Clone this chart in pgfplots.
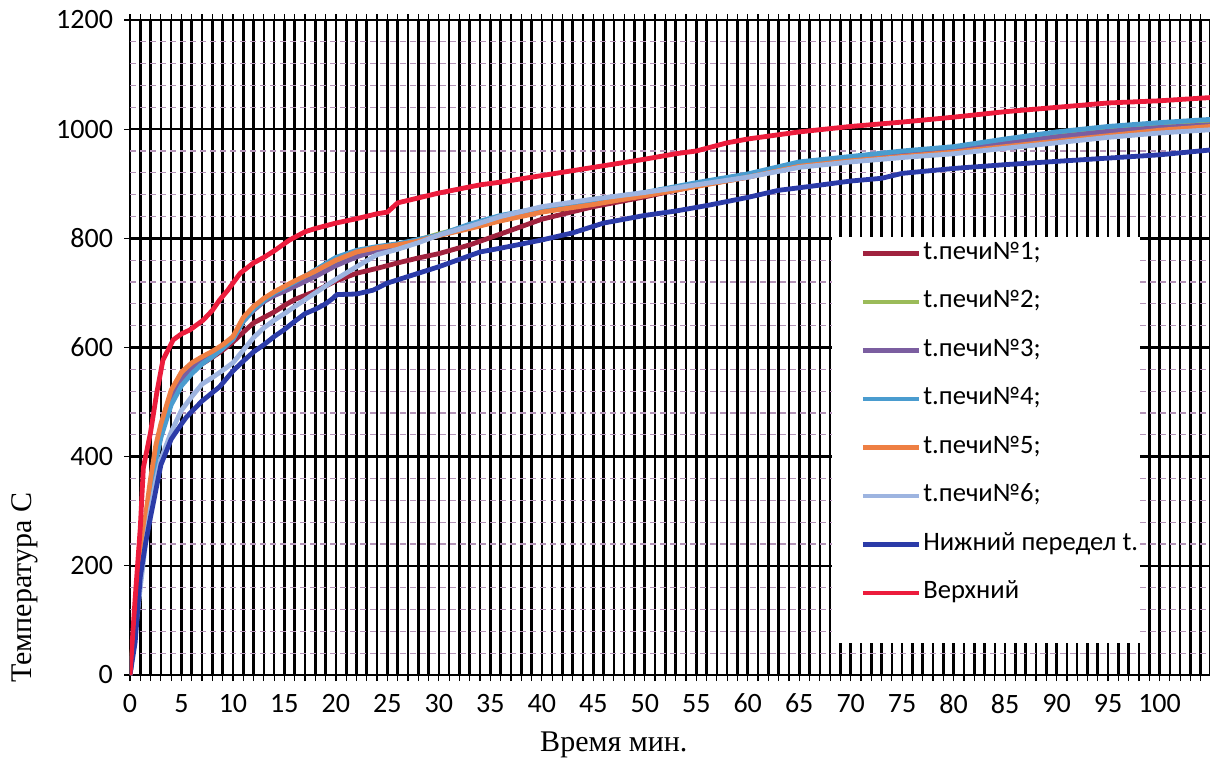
\documentclass[border=0pt]{standalone}
\usepackage{pgfplots}
\pgfplotsset{compat=1.18}
\usepackage{fontspec}
\setmainfont{Liberation Serif}
\newfontfamily\calfont{Carlito}
\definecolor{cA}{HTML}{A0223E}
\definecolor{cB}{HTML}{9BBB59}
\definecolor{cC}{HTML}{7B5EA0}
\definecolor{cD}{HTML}{4A9CCF}
\definecolor{cE}{HTML}{EE7F43}
\definecolor{cF}{HTML}{9DB4E0}
\definecolor{cLow}{HTML}{2B3BA8}
\definecolor{cUp}{HTML}{EC1C3C}
\definecolor{gridpink}{HTML}{B494B8}
\begin{document}
\begin{tikzpicture}
\path[use as bounding box] (-65pt,-43.5pt) rectangle (540pt,337.5pt);
\begin{axis}[
  scale only axis, width=540pt, height=327.5pt,
  xmin=0, xmax=104.9, ymin=0, ymax=1200,
  xtick={0,5,...,100}, minor xtick={0,1,...,104},
  ytick={0,200,...,1200},
  xmajorgrids, xminorgrids, ymajorgrids,
  major grid style={black, line width=1.3pt},
  minor grid style={black, line width=1.3pt},
  extra y ticks={40,80,120,160,240,280,320,360,440,480,520,560,640,680,720,760,840,880,920,960,1040,1080,1120,1160},
  extra y tick labels={},
  extra y tick style={major tick length=0pt, major grid style={gridpink, line width=0.6pt, dash pattern=on 3pt off 2pt}},
  tick align=outside, major tick length=3pt, minor tick length=3pt,
  tick style={black, line width=0.6pt},
  axis line style={black, line width=0.8pt},
  /pgf/number format/assume math mode=true,
  /pgf/number format/1000 sep={},
  tick label style={font=\calfont\fontsize{14}{16}\selectfont},
  yticklabel style={xshift=-2pt},
  xticklabel style={yshift=-3pt},
  xlabel={Время мин.},
  ylabel={Температура С},
  xlabel style={at={(axis description cs:0.448,-0.107)}, anchor=center, font=\fontsize{15}{17}\selectfont},
  ylabel style={at={(axis description cs:-0.097,0.133)}, anchor=center, font=\fontsize{15}{17}\selectfont},
  legend style={at={(axis description cs:0.676,0.6626)}, anchor=north west, draw=none, fill=none,
    font=\calfont\fontsize{13.3}{15}\selectfont, row sep=12.25pt, inner sep=0pt,
    nodes={inner ysep=0pt, inner xsep=1pt, text height=9pt, text depth=3pt}},
  legend cell align=left,
  legend image code/.code={\draw[#1] (0pt,0pt) -- (28pt,0pt);},
  every axis plot/.append style={line width=2.4pt, line join=round},
]
% No1
\addplot[cA] coordinates {(0,0) (0.5,88) (1,182) (1.5,268) (2,338) (2.5,395) (3,440) (4,500) (5,535) (6,555) (7,570) (8,582) (9,595) (10,610) (11,628) (12,645) (13,655) (14,665) (15,677) (16,688) (18,703) (20,722) (22,736) (24,745) (26,755) (28,764) (30,772) (33,788) (36,808) (40,835) (45,858) (50,876) (55,896) (60,912) (65,934) (70,944) (75,954) (80,962) (85,975) (90,987) (95,996) (100,1004) (105,1010)};
% No2
\addplot[cB] coordinates {(0,0) (0.5,95) (1,190) (1.5,280) (2,350) (2.5,410) (3,452) (4,512) (5,548) (6,566) (7,579) (8,590) (9,603) (10,618) (11,650) (12,672) (13,688) (14,700) (15,708) (16,716) (18,735) (20,754) (22,770) (24,780) (26,786) (28,797) (30,808) (33,823) (36,838) (40,852) (45,866) (50,880) (55,898) (60,914) (65,935) (70,946) (75,956) (80,964) (85,976) (90,988) (95,998) (100,1004) (105,1012)};
% No3
\addplot[cC] coordinates {(0,0) (0.5,90) (1,185) (1.5,272) (2,342) (2.5,400) (3,445) (4,505) (5,542) (6,562) (7,576) (8,588) (9,600) (10,615) (11,648) (12,668) (13,684) (14,695) (15,703) (16,712) (18,730) (20,750) (22,766) (24,778) (26,784) (28,796) (30,806) (33,820) (36,836) (40,851) (45,866) (50,879) (55,897) (60,913) (65,933) (70,944) (75,953) (80,962) (85,974) (90,986) (95,996) (100,1003) (105,1008)};
% No4
\addplot[cD] coordinates {(0,0) (0.5,85) (1,178) (1.5,265) (2,335) (2.5,392) (3,435) (4,495) (5,530) (6,552) (7,570) (8,583) (9,598) (10,615) (11,648) (12,670) (13,686) (14,700) (15,710) (16,720) (18,742) (20,765) (22,778) (24,785) (26,790) (28,798) (30,806) (33,826) (36,842) (40,856) (45,870) (50,884) (55,902) (60,918) (65,940) (70,950) (75,960) (80,968) (85,982) (90,995) (95,1005) (100,1012) (105,1018)};
% No5
\addplot[cE] coordinates {(0,0) (0.5,100) (1,200) (1.5,290) (2,360) (2.5,420) (3,460) (4,522) (5,555) (6,572) (7,583) (8,593) (9,605) (10,620) (11,655) (12,675) (13,690) (14,702) (15,712) (16,722) (18,740) (20,760) (22,775) (24,783) (26,788) (28,795) (30,805) (33,818) (36,832) (40,848) (45,862) (50,878) (55,895) (60,912) (65,932) (70,942) (75,950) (80,958) (85,968) (90,978) (95,988) (100,998) (105,1005)};
% No6
\addplot[cF] coordinates {(0,0) (0.5,75) (1,160) (1.5,240) (2,305) (2.5,355) (3,395) (4,445) (5,485) (6,510) (7,533) (8,545) (9,558) (10,572) (11,595) (12,618) (13,636) (14,650) (15,662) (16,675) (18,700) (20,725) (22,748) (24,770) (26,780) (28,792) (30,806) (33,822) (36,840) (40,858) (45,872) (50,884) (55,898) (60,912) (65,930) (70,940) (75,948) (80,955) (85,965) (90,975) (95,985) (100,993) (105,999)};
% Lower
\addplot[cLow] coordinates {(0,0) (0.5,60) (1,180) (1.5,240) (2,290) (3,385) (4,432) (5,460) (5.5,473) (7,502) (8.7,528) (10,557) (11,575) (12,592) (13,605) (14,620) (15,633) (16,648) (17,662) (18,670) (19,680) (19.7,690) (20.1,697) (22,698) (23.6,705) (25,718) (27,730) (30,748) (34,775) (36,782) (40,797) (43,810) (46,828) (50,842) (53,850) (56,860) (60,875) (63,888) (66,895) (70,905) (73,910) (75,919) (80,928) (85,935) (90,941) (95,947) (100,953) (105,962)};
% Upper
\addplot[cUp] coordinates {(0,0) (0.5,140) (1,270) (1.3,380) (2,445) (2.6,517) (3.2,577) (4.2,614) (5,625) (5.8,632) (7.1,650) (8,668) (8.7,687) (9.5,705) (10,718) (10.7,736) (12,755) (13,765) (14,777) (15.5,797) (17,812) (18,818) (20,828) (22,836) (24,845) (25,848) (26,865) (28,874) (30,883) (34,898) (36,903) (40,915) (45,930) (50,945) (53,955) (55,960) (58,975) (60,982) (65,995) (70,1005) (75,1013) (80,1022) (85,1032) (90,1040) (95,1048) (100,1052) (105,1058)};
\fill[white] (rel axis cs:0.65,0.049) rectangle (rel axis cs:0.9352,0.669);
\legend{t.печи№1;,t.печи№2;,t.печи№3;,t.печи№4;,t.печи№5;,t.печи№6;,Нижний передел t.,Верхний}
\end{axis}
\end{tikzpicture}
\end{document}
